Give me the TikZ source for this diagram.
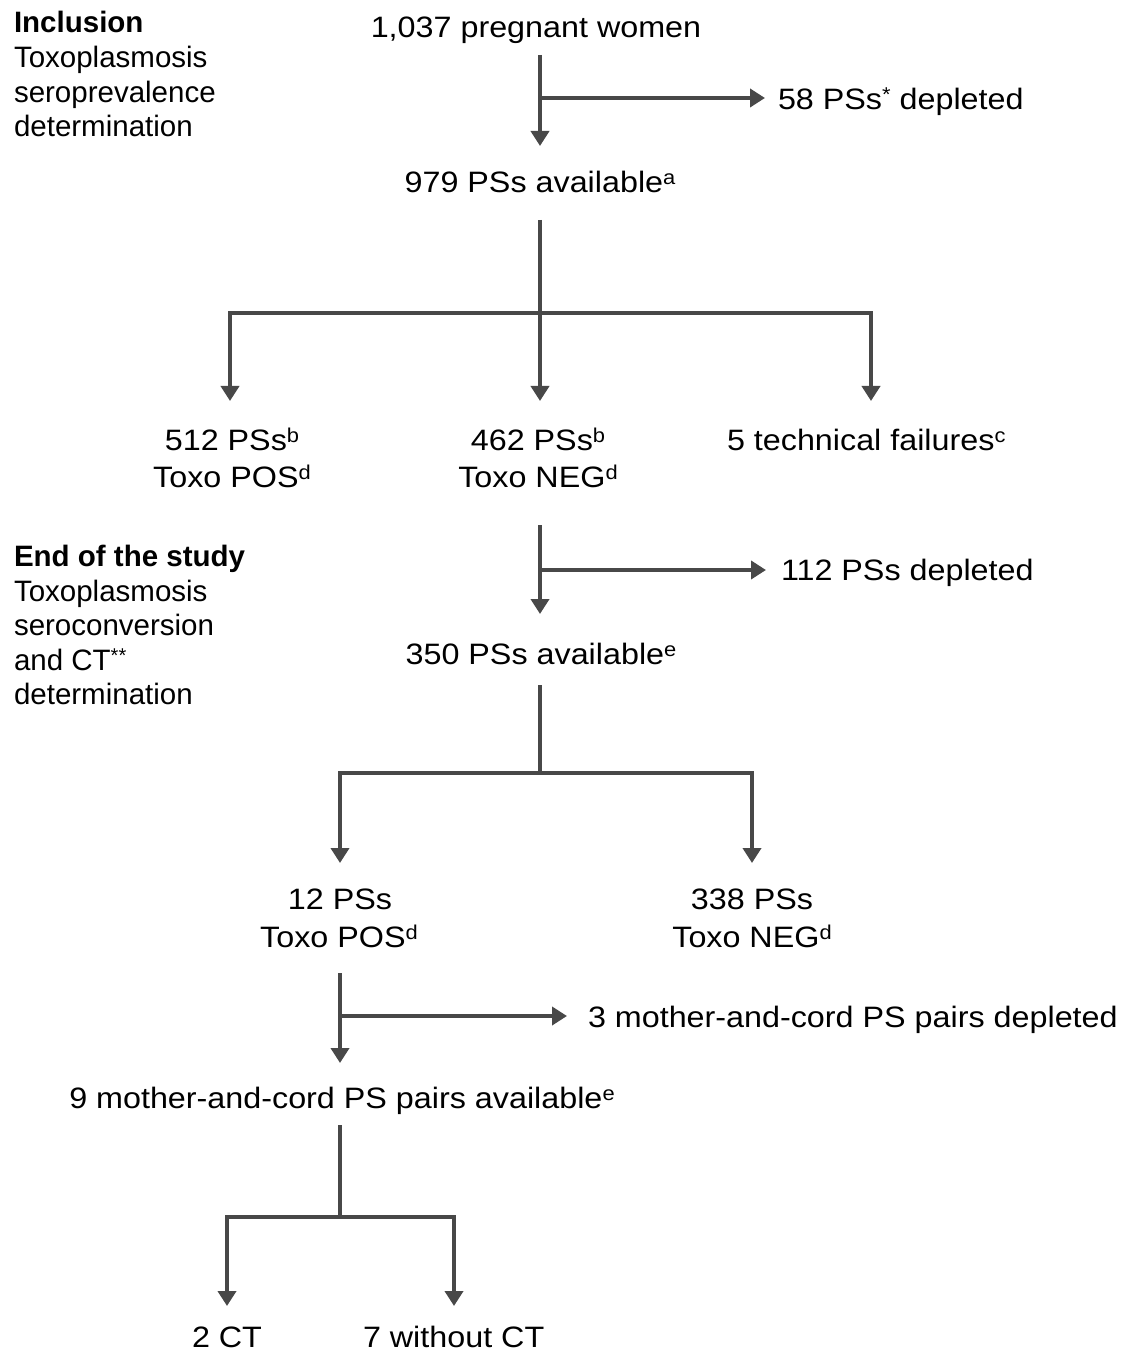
\documentclass[tikz,border=0pt]{standalone}
\usepackage{fontspec}
\usepackage{graphicx}
\setmainfont{Liberation Sans}
\usetikzlibrary{arrows.meta}
\definecolor{linegray}{RGB}{72,72,72}
\newcommand{\widetxt}[1]{\scalebox{1.095}[1]{#1}}
\tikzset{
  txt/.style={inner sep=0pt, outer sep=0pt, font=\fontsize{14.75}{17.25}\selectfont},
  lft/.style={txt, anchor=base west},
  ctr/.style={txt, anchor=base},
  conn/.style={draw=linegray, line width=2pt},
  arr/.style={conn, -{Triangle[width=9pt,length=7.5pt]}},
}
\newcommand{\sps}[1]{\raisebox{4pt}{\fontsize{10}{10}\selectfont #1}}
\begin{document}
\begin{tikzpicture}[x=0.5pt,y=-0.5pt]
\useasboundingbox (0,0) rectangle (1132,1352);
% left labels
\node[lft, font=\fontsize{14.75}{17.25}\selectfont\bfseries] (inc) at (14,33) {Inclusion};
\node[lft] (inc2) at (14,68) {Toxoplasmosis};
\node[lft] (inc3) at (14,103) {seroprevalence};
\node[lft] (inc4) at (14,137) {determination};
\node[lft, font=\fontsize{14.75}{17.25}\selectfont\bfseries] (end) at (14,566) {End of the study};
\node[lft] (end2) at (14,601) {Toxoplasmosis};
\node[lft] (end3) at (14,635) {seroconversion};
\node[lft] (end4) at (14,670) {and CT\sps{**}};
\node[lft] (end5) at (14,704) {determination};
% main nodes
\node[ctr] (n0) at (536,38) {\widetxt{1,037 pregnant women}};
\node[lft] (d1) at (778,110) {\widetxt{58 PSs\sps{*} depleted}};
\node[ctr] (n1) at (540,193) {\widetxt{979 PSs available\sps{a}}};
\node[ctr] (p1) at (232,450) {\widetxt{512 PSs\sps{b}}};
\node[ctr] (p1b) at (232,487) {\widetxt{Toxo POS\sps{d}}};
\node[ctr] (q1) at (538,450) {\widetxt{462 PSs\sps{b}}};
\node[ctr] (q1b) at (538,487) {\widetxt{Toxo NEG\sps{d}}};
\node[lft] (tf) at (727,450) {\widetxt{5 technical failures\sps{c}}};
\node[lft] (d2) at (781,580) {\widetxt{112 PSs depleted}};
\node[ctr] (n2) at (541,664) {\widetxt{350 PSs available\sps{e}}};
\node[ctr] (p2) at (340,909) {\widetxt{12 PSs}};
\node[ctr] (p2b) at (339,947) {\widetxt{Toxo POS\sps{d}}};
\node[ctr] (q2) at (752,909) {\widetxt{338 PSs}};
\node[ctr] (q2b) at (752,947) {\widetxt{Toxo NEG\sps{d}}};
\node[lft] (d3) at (588,1027) {\widetxt{3 mother-and-cord PS pairs depleted}};
\node[ctr] (n3) at (342,1108) {\widetxt{9 mother-and-cord PS pairs available\sps{e}}};
\node[ctr] (c1) at (227,1347) {\widetxt{2 CT}};
\node[lft] (c2) at (363,1347) {\widetxt{7 without CT}};
% junction coordinates
\coordinate (a0s) at (540,55);
\coordinate (a0e) at (540,146);
\coordinate (b0) at (540,98);
\coordinate (b0e) at (765,98);
\coordinate (a1s) at (540,220);
\coordinate (j1) at (540,313);
\coordinate (j1l) at (230,313);
\coordinate (j1r) at (871,313);
\coordinate (t1l) at (230,401);
\coordinate (t1m) at (540,401);
\coordinate (t1r) at (871,401);
\coordinate (a2s) at (540,525);
\coordinate (a2e) at (540,614);
\coordinate (b2) at (540,570);
\coordinate (b2e) at (766,570);
\coordinate (a3s) at (540,685);
\coordinate (j3) at (540,773);
\coordinate (j3l) at (340,773);
\coordinate (j3r) at (752,773);
\coordinate (t3l) at (340,863);
\coordinate (t3r) at (752,863);
\coordinate (a4s) at (340,973);
\coordinate (a4e) at (340,1063);
\coordinate (b4) at (340,1016);
\coordinate (b4e) at (567,1016);
\coordinate (a5s) at (340,1125);
\coordinate (j5) at (340,1217);
\coordinate (j5l) at (227,1217);
\coordinate (j5r) at (454,1217);
\coordinate (t5l) at (227,1306);
\coordinate (t5r) at (454,1306);
% connectors
\draw[arr] (a0s) -- (a0e);
\draw[arr] (b0) -- (b0e);
\draw[conn] (a1s) -- (j1);
\draw[conn, line cap=rect] (j1l) -- (j1r);
\draw[arr] (j1l) -- (t1l);
\draw[arr] (j1) -- (t1m);
\draw[arr] (j1r) -- (t1r);
\draw[arr] (a2s) -- (a2e);
\draw[arr] (b2) -- (b2e);
\draw[conn] (a3s) -- (j3);
\draw[conn, line cap=rect] (j3l) -- (j3r);
\draw[arr] (j3l) -- (t3l);
\draw[arr] (j3r) -- (t3r);
\draw[arr] (a4s) -- (a4e);
\draw[arr] (b4) -- (b4e);
\draw[conn] (a5s) -- (j5);
\draw[conn, line cap=rect] (j5l) -- (j5r);
\draw[arr] (j5l) -- (t5l);
\draw[arr] (j5r) -- (t5r);
\end{tikzpicture}
\end{document}
